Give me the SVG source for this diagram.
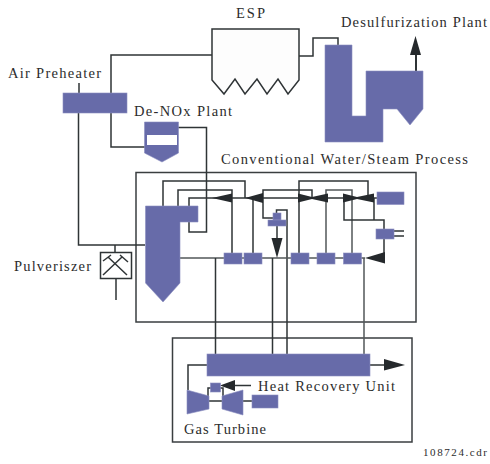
<svg xmlns="http://www.w3.org/2000/svg" width="490" height="464" viewBox="0 0 490 464">
<style>
.c{fill:none;stroke:#2f3436;stroke-width:1.500}
.g{fill:none;stroke:#53585a;stroke-width:1.500}
.u{fill:#676ba9;stroke:#8a8dc0;stroke-width:.6}
.a{fill:#25292c;stroke:none}
.b{fill:none;stroke:#3a3e40;stroke-width:1.500}
text{font-family:"Liberation Serif","Times New Roman",serif;font-size:14.500px;fill:#2c2c2c}
.s{font-size:11px}
</style>
<rect width="490" height="464" fill="#fff"/>
<g id="water-steam-process"><rect class="b" x="136" y="172.500" width="280" height="149.500"/></g>
<g id="heat-recovery-box"><rect class="b" x="172.500" y="338" width="239.500" height="104"/></g>
<g id="connectors">
<path class="c" d="M212 55H111V93M111 113V147H145M178 127.500H206.500V232H189V198H377"/>
<path class="c" d="M299 56H313V38H338V45"/>
<path class="c" d="M79 83V93M78.500 113V245H145M115 245V252M116 278V300"/>
<path class="c" d="M163 206V181H245V198M178 206V190H232V253M253 198V253"/>
<path class="c" d="M312 198V190H263V218H273M276.500 213V210H287V354M277 226V240"/>
<path class="c" d="M299 253V181H368V198"/>
<path class="g" d="M326 253V190H352V253"/>
<path class="c" d="M344 198V220H384V229M374 198V220M384 239V253"/>
<path class="c" d="M394 231H404M394 236H404"/>
<path class="g" d="M180 258H365M364 258V354"/>
<path class="c" d="M215.500 258V354M272.500 258V354"/>
<path class="c" d="M370 365H386M207 365H188V390M235 385.500H251"/>
<path class="c" d="M208 398V388H211M220 388H223V397M209 401H222M243 401H252"/>
<polygon class="a" points="212,198 232,193.500 232,202.500"/>
<polygon class="a" points="245,198 263,193 263,203"/>
<polygon class="a" points="298,193.500 312,197 328,193.500 328,202.500 312,199 298,202.500"/>
<polygon class="a" points="343,193.500 357,197 374,193.500 374,202.500 357,199 343,202.500"/>
<polygon class="a" points="271.500,238 282.500,238 277,258"/>
<polygon class="a" points="365,258 385,252 385,263.500"/>
<polygon class="a" points="405,365 384,359 384,370.500"/>
<polygon class="a" points="220,385.500 235,380 235,391"/>
<path class="c" d="M416 71V52" style="stroke-width:2"/>
<polygon class="a" points="415.500,36 421,55 410,55"/>
</g>
<g id="esp"><polygon points="212,29 299,29 299,80 288,94 278,79 267,94 257,79 245,94 235,79 224,94 212,80" fill="#fdfdfd" stroke="#2f3436" stroke-width="1.500"/></g>
<g id="desulfurization-plant"><polygon class="u" points="325,45 352,45 352,116 366,116 366,71 423,71 423,109 410,125 397,109 383,109 383,142 325,142"/></g>
<g id="air-preheater"><rect class="u" x="63" y="93" width="64" height="20"/></g>
<g id="de-nox-plant"><polygon class="u" points="144.500,122 178.500,122 178.500,153 162,162 144.500,153"/><rect x="147" y="135" width="30" height="10" fill="#fff"/></g>
<g id="boiler"><polygon class="u" points="145.500,206 198,206 198,222 180,222 180,283 163,302 145.500,283"/></g>
<g id="heater-small"><rect class="u" x="273" y="213" width="8" height="7"/><rect class="u" x="268" y="220" width="18" height="6"/></g>
<g id="heater-1"><rect class="u" x="224" y="253" width="18" height="11"/></g>
<g id="heater-2"><rect class="u" x="244" y="253" width="18" height="11"/></g>
<g id="heater-3"><rect class="u" x="291" y="253" width="18" height="11"/></g>
<g id="heater-4"><rect class="u" x="317" y="253" width="18" height="11"/></g>
<g id="heater-5"><rect class="u" x="343.500" y="253" width="18" height="11"/></g>
<g id="steam-generator"><rect class="u" x="377" y="192" width="27" height="12.500"/></g>
<g id="condenser"><rect class="u" x="376" y="229" width="18" height="10"/></g>
<g id="pulveriszer"><rect x="100.500" y="252.500" width="31" height="26" fill="#fff" stroke="#2f3436" stroke-width="1.500"/><path class="c" d="M108 257L127 275M122 257L103 275M103 261L111 255M120 255L128 262"/></g>
<g id="heat-recovery-unit"><rect class="u" x="207" y="354" width="163" height="22"/></g>
<g id="gas-turbine"><polygon class="u" points="187,390 209,396 209,409 187,414"/><polygon class="u" points="222,396 243,390 243,415 222,409"/><rect class="u" x="252" y="395" width="26" height="13"/><rect class="u" x="210.500" y="383" width="10" height="9"/></g>
<g id="labels">
<text x="236" y="18" textLength="29" lengthAdjust="spacing">ESP</text>
<text x="341" y="27" textLength="146" lengthAdjust="spacing">Desulfurization Plant</text>
<text x="8" y="78" textLength="93" lengthAdjust="spacing">Air Preheater</text>
<text x="134" y="116" textLength="98" lengthAdjust="spacing">De-NOx Plant</text>
<text x="221" y="164" textLength="247" lengthAdjust="spacing">Conventional Water/Steam Process</text>
<text x="14" y="271" textLength="77" lengthAdjust="spacing">Pulveriszer</text>
<text x="258" y="391" textLength="137" lengthAdjust="spacing">Heat Recovery Unit</text>
<text x="184" y="434" textLength="82" lengthAdjust="spacing">Gas Turbine</text>
<text class="s" x="423" y="456" textLength="64" lengthAdjust="spacing">108724.cdr</text>
</g>
</svg>
